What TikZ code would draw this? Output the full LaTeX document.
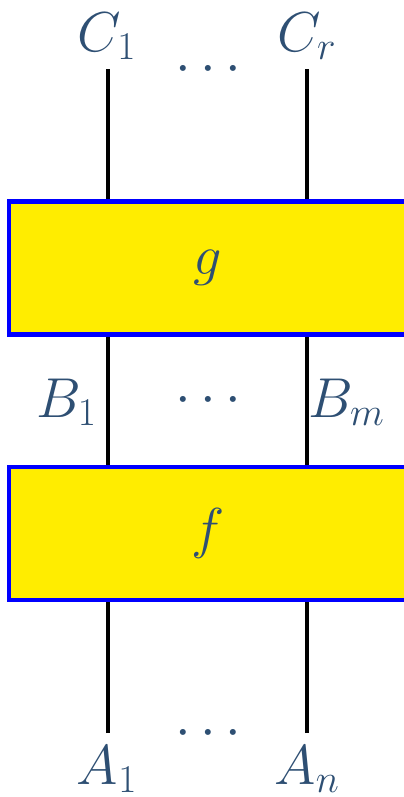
\documentclass[tikz,border=0pt]{standalone}
\usepackage{fix-cm}
\usepackage{tikz}
\usetikzlibrary{positioning,calc}
\definecolor{labelblue}{RGB}{46,79,115}
\definecolor{boxyellow}{RGB}{255,237,0}
\definecolor{boxblue}{RGB}{0,0,255}

\begin{document}
\begin{tikzpicture}[x=0.025cm,y=-0.025cm,
  box/.style={draw=boxblue,fill=boxyellow,line width=3pt,inner sep=0pt,
    minimum width=9.95cm,minimum height=3.325cm,text=labelblue,
    font=\fontsize{40}{48}\selectfont},
  wire/.style={line width=2.6pt,draw=black},
  lbl/.style={text=labelblue,inner sep=0pt,font=\fontsize{40}{48}\selectfont}]
\useasboundingbox (0,0) rectangle (403,797);
% wire ends
\coordinate (c1) at (108,69);
\coordinate (cr) at (307,69);
\coordinate (a1) at (108,733);
\coordinate (an) at (307,733);
% boxes
\path (208,268) node[box] (g) {}
      (208,533.5) node[box] (f) {};
\foreach \w in {c1,cr} {
  \draw[wire] (\w) -- (\w |- g.north);
  \draw[wire] (g.south -| \w) -- (f.north -| \w);
}
\foreach \w in {a1,an}
  \draw[wire] (\w) -- (\w |- f.south);
\node[box] at (g) {$g$};
\node[box] at (f) {$f$};
% labels
\node[lbl,anchor=base] (C1) at (107,51) {$C_1$};
\node[lbl,anchor=base] (Cr) at (307,51) {$C_r$};
\node[lbl,anchor=base east] (B1) at (97,417) {$B_1$};
\node[lbl,anchor=base west] (Bm) at (308,417) {$B_m$};
\node[lbl,anchor=base] (A1) at (107,784) {$A_1$};
\node[lbl,anchor=base] (An) at (307,784) {$A_n$};
\node[lbl,anchor=base] (dc) at (208,82) {$\cdots$};
\node[lbl,anchor=base] (db) at (208,413) {$\cdots$};
\node[lbl,anchor=base] (da) at (208,746) {$\cdots$};
\end{tikzpicture}
\end{document}
